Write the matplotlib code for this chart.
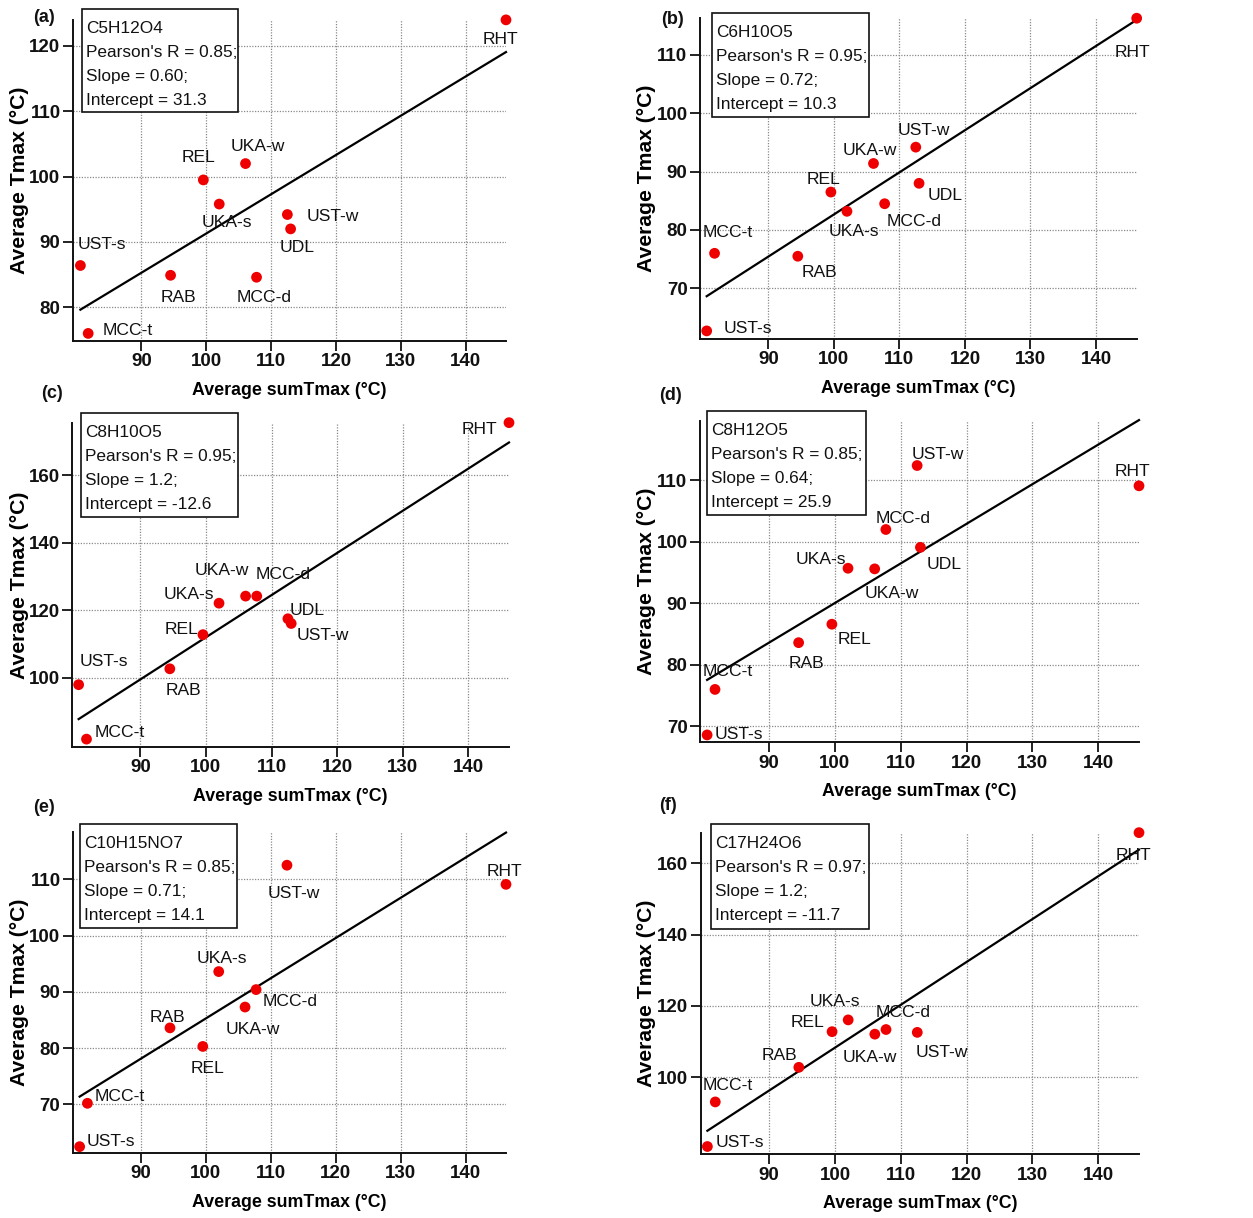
import numpy as np
import matplotlib
matplotlib.use("Agg")
import matplotlib.pyplot as plt
from matplotlib.patches import Rectangle

plt.rcParams['font.family'] = ['Liberation Sans', 'DejaVu Sans']

# ---------------- data ----------------
sites = ["UST-s", "MCC-t", "RAB", "REL", "UKA-s", "UKA-w", "MCC-d", "UST-w", "UDL", "RHT"]
sum_tmax = [80.6, 81.8, 94.5, 99.55, 102.0, 106.05, 107.75, 112.5, 113.0, 146.2]

compounds = ["C5H12O4", "C6H10O5", "C8H10O5", "C8H12O5", "C10H15NO7", "C17H24O6"]
pearson_r = ["0.85", "0.95", "0.95", "0.85", "0.85", "0.97"]
slope_txt = ["0.60", "0.72", "1.2", "0.64", "0.71", "1.2"]
intercept_txt = ["31.3", "10.3", "-12.6", "25.9", "14.1", "-11.7"]
panel_tags = ["(a)", "(b)", "(c)", "(d)", "(e)", "(f)"]

nan = np.nan
tmax_a = [86.4, 76.0, 84.9, 99.5, 95.8, 102.0, 84.6, 94.2, 92.0, 124.0]
tmax_b = [62.7, 76.0, 75.5, 86.5, 83.2, 91.4, 84.5, 94.2, 88.0, 116.3]
tmax_c = [98.0, 81.9, 102.7, 112.8, 122.1, 124.2, 124.2, 117.5, 116.1, 175.5]
tmax_d = [68.6, 76.0, 83.6, 86.6, 95.7, 95.6, 102.0, 112.4, 99.1, 109.1]
tmax_e = [62.5, 70.2, 83.6, 80.3, 93.6, 87.3, 90.4, 112.5, nan, 109.1]
tmax_f = [80.6, 93.1, 102.8, 112.8, 116.1, 112.1, 113.4, 112.6, nan, 168.6]
tmax_all = [tmax_a, tmax_b, tmax_c, tmax_d, tmax_e, tmax_f]

x_ticks = [90, 100, 110, 120, 130, 140]
y_ticks_list = [[80, 90, 100, 110, 120], [70, 80, 90, 100, 110],
                [100, 120, 140, 160], [70, 80, 90, 100, 110],
                [70, 80, 90, 100, 110], [100, 120, 140, 160]]

# ---------------- layout (pixels) ----------------
W, H = 1253, 1218
fig = plt.figure(figsize=(W / 100, H / 100), dpi=100)

def fx(px):
    return px / W

def fy(py):
    return 1 - py / H

# axes rects: left, top, right, bottom (image pixels)
ax_rects = [(73, 20, 506, 341), (700, 18, 1137, 339),
            (72, 423, 509, 747), (700, 421, 1139, 742),
            (73, 832, 506, 1153), (701, 833, 1139, 1154)]
xlims = [(79.46, 146.2), (79.58, 146.25), (79.59, 146.2),
         (79.52, 146.2), (79.58, 146.2), (79.63, 146.2)]
ylims = [(74.84, 123.98), (61.31, 116.34), (79.57, 175.4),
         (67.45, 119.64), (61.37, 118.4), (78.5, 168.5)]
boxes = [(82, 9, 238, 112), (712, 13, 869, 117), (81, 413, 238, 517),
         (707, 411, 866, 515), (80, 824, 237, 928), (711, 824, 869, 929)]
tag_pos = [(44, 17), (672, 20), (52, 394), (670, 395), (44, 807), (668, 806)]

# label offsets (dx, dy) in pixels from point, dy up-positive, to text left / cap-center
offs = [
    [(-3, 23), (14, 5), (-10, -20), (-22, 24), (-18, -17), (-15, 19), (-20, -18), (19, 0), (-11, -17), (-23, -18)],
    [(17, 4), (-12, 23), (4, -14), (-24, 14), (-18, -18), (-31, 15), (2, -16), (-18, 18), (9, -10), (-22, -32)],
    [(1, 25), (8, 8), (-4, -20), (-38, 7), (-55, 11), (-51, 27), (-1, 23), (9, -15), (-2, 15), (-47, -5)],
    [(8, 2), (-12, 20), (-10, -19), (6, -13), (-52, 11), (-10, -23), (-10, 13), (-6, 13), (6, -15), (-24, 16)],
    [(7, 7), (7, 9), (-20, 12), (-12, -20), (-22, 15), (-19, -21), (7, -10), (-19, -26), None, (-19, 15)],
    [(8, 6), (-13, 18), (-37, 14), (-41, 11), (-39, 20), (-32, -22), (-10, 19), (-2, -18), None, (-23, -21)],
]

FS_LAB = 12.6
FS_BOX = 12.4
FS_TICK = 13.5
CAP = 6.3  # half cap height in px

for i in range(6):
    l, t, r, b = ax_rects[i]
    ax = fig.add_axes([fx(l), fy(b), (r - l) / W, (b - t) / H])
    ax.set_xlim(*xlims[i])
    ax.set_ylim(*ylims[i])
    ax.set_xticks(x_ticks)
    ax.set_yticks(y_ticks_list[i])
    for s in ['top', 'right']:
        ax.spines[s].set_visible(False)
    for s in ['left', 'bottom']:
        ax.spines[s].set_linewidth(1.4)
        ax.spines[s].set_color('#111111')
    ax.grid(True, color='#8a8a8a', linestyle=(0, (1, 1.2)), linewidth=0.9)
    ax.set_axisbelow(True)
    ax.tick_params(direction='out', length=7, width=1.3, pad=2, labelsize=FS_TICK,
                   colors='#111111')
    for lab in ax.get_xticklabels() + ax.get_yticklabels():
        lab.set_fontweight('bold')

    x = np.array(sum_tmax, dtype=float)
    y = np.array(tmax_all[i], dtype=float)
    m = ~np.isnan(y)
    k, c0 = np.polyfit(x[m], y[m], 1)
    xl = np.array([x[m].min(), x[m].max()])
    ax.plot(xl, k * xl + c0, color='black', lw=1.6, zorder=3, clip_on=False)
    ax.scatter(x[m], y[m], s=60, color='#ee0000', edgecolors='none', zorder=4, clip_on=False)

    for j, name in enumerate(sites):
        if offs[i][j] is None or np.isnan(y[j]):
            continue
        dx, dy = offs[i][j]
        ax.annotate(name, (x[j], y[j]), xytext=(dx, dy - CAP), textcoords='offset pixels',
                    ha='left', va='baseline', fontsize=FS_LAB, color='#111111',
                    zorder=5, annotation_clip=False)

    ax.set_xlabel("Average sumTmax (°C)", fontsize=12.8, fontweight='bold')
    ax.set_ylabel("Average Tmax (°C)", fontsize=15.2, fontweight='bold')
    hpx = b - t
    wpx = r - l
    ax.xaxis.set_label_coords(0.5, -41 / hpx)
    ylab_right = 29 if i % 2 == 0 else 656
    ax.yaxis.set_label_coords((ylab_right - l) / wpx, 0.5)

    # info box
    bl, bt, br, bb = boxes[i]
    rect = Rectangle((fx(bl), fy(bb)), (br - bl) / W, (bb - bt) / H,
                     transform=fig.transFigure, facecolor='white',
                     edgecolor='#111111', linewidth=1.2, zorder=6)
    fig.add_artist(rect)
    lines = [compounds[i], f"Pearson's R = {pearson_r[i]};",
             f"Slope = {slope_txt[i]};", f"Intercept = {intercept_txt[i]}"]
    for n, line in enumerate(lines):
        fig.text(fx(bl + 4), fy(bt + 24 + 24 * n), line, ha='left', va='baseline',
                 fontsize=FS_BOX, color='#111111', zorder=7)

    tx, ty = tag_pos[i]
    fig.text(fx(tx), fy(ty), panel_tags[i], ha='center', va='center',
             fontsize=13, fontweight='bold', color='#111111')

fig.savefig("out.png", dpi=100, facecolor='white')
